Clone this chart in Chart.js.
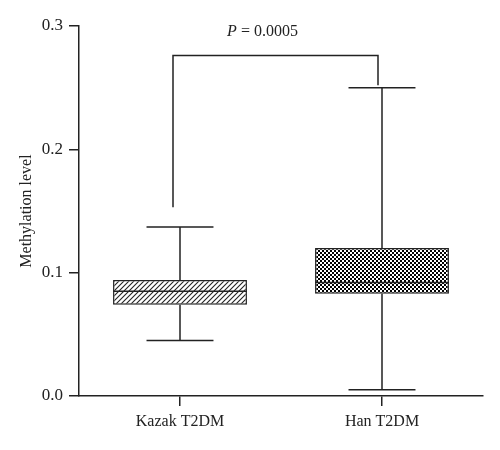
<!DOCTYPE html>
<html>
<head>
<meta charset="utf-8">
<script src="https://cdn.jsdelivr.net/npm/chart.js@4"></script>
<style>
  html, body { margin: 0; padding: 0; background: #fff; }
  #wrap { width: 500px; height: 450px; }
</style>
</head>
<body>
<div id="wrap"><canvas id="c" width="500" height="450"></canvas></div>
<script>
// ---- data ----
const categories = ['Kazak T2DM', 'Han T2DM'];
const q1Values = [0.074, 0.083];
const q3Values = [0.094, 0.120];
const medianValues = [0.085, 0.092];
const minValues = [0.045, 0.005];
const maxValues = [0.137, 0.250];
const yTickValues = [0.0, 0.1, 0.2, 0.3];
const pLabelItalic = 'P';
const pLabelRest = ' = 0.0005';
const bracketTop = 0.276;
const bracketEnds = [0.153, 0.252];
const yTitle = 'Methylation level';

// ---- styles ----
const INK = '#222';
const FONT = '"Liberation Serif", "DejaVu Serif", serif';

function hatchPattern() {
  const s = 5;
  const cv = document.createElement('canvas');
  cv.width = s; cv.height = s;
  const g = cv.getContext('2d');
  g.fillStyle = '#fff'; g.fillRect(0, 0, s, s);
  g.strokeStyle = INK; g.lineWidth = 1.1;
  g.beginPath();
  g.moveTo(-1, s + 1); g.lineTo(s + 1, -1);
  g.moveTo(-1, 1); g.lineTo(1, -1);
  g.moveTo(s - 1, s + 1); g.lineTo(s + 1, s - 1);
  g.stroke();
  return g.createPattern(cv, 'repeat');
}
function checkerPattern() {
  const c = 2;
  const cv = document.createElement('canvas');
  cv.width = c * 2; cv.height = c * 2;
  const g = cv.getContext('2d');
  g.fillStyle = '#fff'; g.fillRect(0, 0, c * 2, c * 2);
  g.fillStyle = '#000';
  g.fillRect(0, 0, c, c); g.fillRect(c, c, c, c);
  return g.createPattern(cv, 'repeat');
}

const boxExtras = {
  id: 'boxExtras',
  afterDatasetsDraw(chart) {
    const { ctx, scales: { x, y } } = chart;
    const meta = chart.getDatasetMeta(0);
    ctx.save();
    ctx.strokeStyle = INK;
    ctx.lineWidth = 1.5;
    ctx.lineCap = 'butt';
    categories.forEach((cat, i) => {
      const cx = x.getPixelForValue(i);
      const bw = meta.data[i].width;
      const capHalf = bw / 4;
      const yq1 = y.getPixelForValue(q1Values[i]);
      const yq3 = y.getPixelForValue(q3Values[i]);
      const ymin = y.getPixelForValue(minValues[i]);
      const ymax = y.getPixelForValue(maxValues[i]);
      const ymed = y.getPixelForValue(medianValues[i]);
      ctx.beginPath();
      ctx.moveTo(cx, yq3); ctx.lineTo(cx, ymax);
      ctx.moveTo(cx, yq1); ctx.lineTo(cx, ymin);
      ctx.moveTo(cx - capHalf, ymax); ctx.lineTo(cx + capHalf, ymax);
      ctx.moveTo(cx - capHalf, ymin); ctx.lineTo(cx + capHalf, ymin);
      ctx.moveTo(cx - bw / 2, ymed); ctx.lineTo(cx + bw / 2, ymed);
      ctx.stroke();
    });
    // significance bracket
    const xl = x.getPixelForValue(0) - 7;
    const xr = x.getPixelForValue(1) - 4;
    const yt = y.getPixelForValue(bracketTop);
    ctx.beginPath();
    ctx.moveTo(xl, y.getPixelForValue(bracketEnds[0]));
    ctx.lineTo(xl, yt);
    ctx.lineTo(xr, yt);
    ctx.lineTo(xr, y.getPixelForValue(bracketEnds[1]));
    ctx.stroke();
    // p label
    ctx.fillStyle = INK;
    ctx.textBaseline = 'alphabetic';
    ctx.textAlign = 'left';
    const fi = 'italic 16px ' + FONT;
    const fr = '16px ' + FONT;
    ctx.font = fi; const w1 = ctx.measureText(pLabelItalic).width;
    ctx.font = fr; const w2 = ctx.measureText(pLabelRest).width;
    const cxText = (xl + xr) / 2 - 13;
    const x0 = cxText - (w1 + w2) / 2;
    ctx.font = fi; ctx.fillText(pLabelItalic, x0, yt - 20);
    ctx.font = fr; ctx.fillText(pLabelRest, x0 + w1, yt - 20);
    ctx.restore();
  }
};

new Chart(document.getElementById('c'), {
  type: 'bar',
  data: {
    labels: categories,
    datasets: [{
      data: categories.map((c, i) => [q1Values[i], q3Values[i]]),
      backgroundColor: [hatchPattern(), checkerPattern()],
      borderColor: INK,
      borderWidth: 1.5,
      borderSkipped: false,
      barPercentage: 0.663,
      categoryPercentage: 1.0
    }]
  },
  options: {
    responsive: false,
    animation: false,
    devicePixelRatio: 1,
    layout: { padding: { top: 26, right: 17, bottom: 0, left: 0 } },
    plugins: { legend: { display: false }, tooltip: { enabled: false } },
    scales: {
      x: {
        type: 'category',
        offset: true,
        afterFit(s) { s.height = 54; },
        grid: { display: true, offset: false, drawOnChartArea: false, drawTicks: true, tickLength: 10, color: INK, lineWidth: 1.5 },
        border: { display: true, color: INK, width: 1.5 },
        ticks: { color: INK, padding: 6, font: { family: FONT, size: 16 } }
      },
      y: {
        min: 0, max: 0.3,
        afterFit(s) { s.width = 79; },
        afterBuildTicks(s) { s.ticks = yTickValues.map(v => ({ value: v })); },
        grid: { display: true, drawOnChartArea: false, drawTicks: true, tickLength: 10, color: INK, lineWidth: 1.5 },
        border: { display: true, color: INK, width: 1.5 },
        ticks: { color: INK, padding: 6, font: { family: FONT, size: 17 }, callback: v => Number(v).toFixed(1) },
        title: { display: true, text: yTitle, color: INK, font: { family: FONT, size: 16 }, padding: { top: 17, bottom: 0 } }
      }
    }
  },
  plugins: [boxExtras]
});
</script>
</body>
</html>
